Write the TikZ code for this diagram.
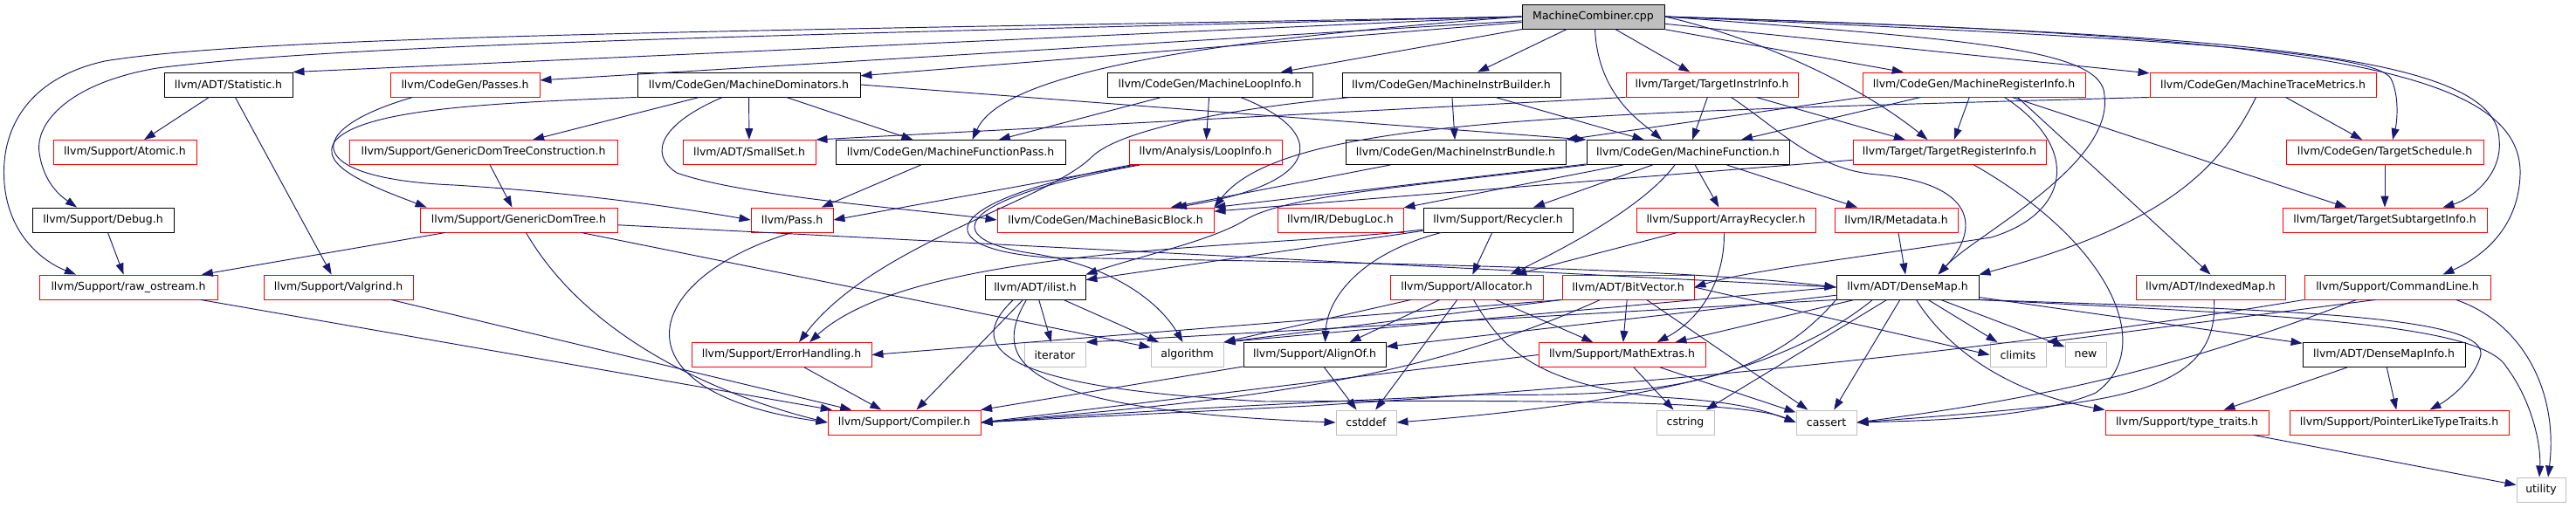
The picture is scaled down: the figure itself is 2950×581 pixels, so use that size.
\documentclass[tikz,border=0pt]{standalone}
\usepackage{fontspec}
\newfontfamily\hdrfont{DejaVu Sans}
\usetikzlibrary{arrows.meta}
\definecolor{edgeblue}{HTML}{191970}
\definecolor{boxred}{HTML}{FF0000}
\definecolor{sysgray}{HTML}{BFBFBF}
\definecolor{rootfill}{HTML}{BFBFBF}
\tikzset{
  hdr/.style={draw, rectangle, inner sep=0pt, minimum height=28pt, line width=0.9pt,
    font=\hdrfont\fontsize{12.5pt}{15pt}\selectfont, text=black},
  redb/.style={hdr, draw=boxred},
  blkb/.style={hdr, draw=black},
  sysb/.style={hdr, draw=sysgray},
  dep/.style={draw=edgeblue, line width=0.95pt, -{Triangle[length=13pt,width=9pt]}},
}
\begin{document}
\begin{tikzpicture}[x=1pt, y=-1pt]
\useasboundingbox (0,0) rectangle (2950,581);
% rank 0
\node[blkb, fill=rootfill, minimum width=163pt] (root) at (1824.5,19) {MachineCombiner.cpp};
% rank 1
\node[blkb, minimum width=147pt] (stat) at (261.5,97) {llvm/ADT/Statistic.h};
\node[redb, minimum width=171pt] (passes) at (532.5,97) {llvm/CodeGen/Passes.h};
\node[blkb, minimum width=255pt] (mdom) at (857.5,97) {llvm/CodeGen/MachineDominators.h};
\node[blkb, minimum width=235pt] (mli) at (1385.5,97) {llvm/CodeGen/MachineLoopInfo.h};
\node[blkb, minimum width=250pt] (mib) at (1662,97) {llvm/CodeGen/MachineInstrBuilder.h};
\node[redb, minimum width=197pt] (tii) at (1960.5,97) {llvm/Target/TargetInstrInfo.h};
\node[redb, minimum width=255pt] (mri) at (2260.5,97) {llvm/CodeGen/MachineRegisterInfo.h};
\node[redb, minimum width=259pt] (mtm) at (2591.5,97) {llvm/CodeGen/MachineTraceMetrics.h};
% rank 2
\node[redb, minimum width=164pt] (atomic) at (143,174.5) {llvm/Support/Atomic.h};
\node[redb, minimum width=307pt] (gdtc) at (553.5,174.5) {llvm/Support/GenericDomTreeConstruction.h};
\node[redb, minimum width=152pt] (smallset) at (858,174.5) {llvm/ADT/SmallSet.h};
\node[blkb, minimum width=263pt] (mfp) at (1088.5,174.5) {llvm/CodeGen/MachineFunctionPass.h};
\node[redb, minimum width=175pt] (loopinfo) at (1380.5,174.5) {llvm/Analysis/LoopInfo.h};
\node[blkb, minimum width=252pt] (mibundle) at (1667,174.5) {llvm/CodeGen/MachineInstrBundle.h};
\node[blkb, minimum width=232pt] (mf) at (1933,174.5) {llvm/CodeGen/MachineFunction.h};
\node[redb, minimum width=221pt] (tri) at (2232.5,174.5) {llvm/Target/TargetRegisterInfo.h};
\node[redb, minimum width=226pt] (tsched) at (2731,174.5) {llvm/CodeGen/TargetSchedule.h};
% rank 3
\node[blkb, minimum width=162pt] (debug) at (118,252) {llvm/Support/Debug.h};
\node[redb, minimum width=226pt] (gdt) at (594,252) {llvm/Support/GenericDomTree.h};
\node[redb, minimum width=94pt] (pass) at (907,252) {llvm/Pass.h};
\node[redb, minimum width=248pt] (mbb) at (1266,252) {llvm/CodeGen/MachineBasicBlock.h};
\node[redb, minimum width=144pt] (debugloc) at (1535,252) {llvm/IR/DebugLoc.h};
\node[blkb, minimum width=171pt] (recycler) at (1715.5,252) {llvm/Support/Recycler.h};
\node[redb, minimum width=205pt] (arrayrec) at (1976.5,252) {llvm/Support/ArrayRecycler.h};
\node[redb, minimum width=141pt] (metadata) at (2171.5,252) {llvm/IR/Metadata.h};
\node[redb, minimum width=234pt] (tsi) at (2731,252) {llvm/Target/TargetSubtargetInfo.h};
% rank 4
\node[redb, minimum width=204pt] (raw) at (147,329) {llvm/Support/raw\_ostream.h};
\node[redb, minimum width=171pt] (valgrind) at (387.5,329) {llvm/Support/Valgrind.h};
\node[blkb, minimum width=115pt] (ilist) at (1185.5,329) {llvm/ADT/ilist.h};
\node[redb, minimum width=175pt] (allocator) at (1679.5,329) {llvm/Support/Allocator.h};
\node[redb, minimum width=151pt] (bitvector) at (1864.5,329) {llvm/ADT/BitVector.h};
\node[blkb, minimum width=163pt] (densemap) at (2184.5,329) {llvm/ADT/DenseMap.h};
\node[redb, minimum width=171pt] (indexedmap) at (2531.5,329) {llvm/ADT/IndexedMap.h};
\node[redb, minimum width=213pt] (cl) at (2745.5,329) {llvm/Support/CommandLine.h};
% rank 5
\node[redb, minimum width=206pt] (errh) at (895,406.5) {llvm/Support/ErrorHandling.h};
\node[sysb, minimum width=70pt] (iterator) at (1208,406.5) {iterator};
\node[sysb, minimum width=83pt] (algorithm) at (1359.5,406.5) {algorithm};
\node[blkb, minimum width=163pt] (alignof) at (1505.5,406.5) {llvm/Support/AlignOf.h};
\node[redb, minimum width=191pt] (mathext) at (1857.5,406.5) {llvm/Support/MathExtras.h};
\node[sysb, minimum width=64pt] (climits) at (2311,406.5) {climits};
\node[sysb, minimum width=47pt] (nw) at (2388.5,406.5) {new};
\node[blkb, minimum width=186pt] (dmi) at (2730,406.5) {llvm/ADT/DenseMapInfo.h};
% rank 6
\node[redb, minimum width=175pt] (compiler) at (1035.5,484) {llvm/Support/Compiler.h};
\node[sysb, minimum width=69pt] (cstddef) at (1564.5,484) {cstddef};
\node[sysb, minimum width=66pt] (cstring) at (1930,484) {cstring};
\node[sysb, minimum width=69pt] (cassert) at (2091.5,484) {cassert};
\node[redb, minimum width=187pt] (typetraits) at (2504.5,484) {llvm/Support/type\_traits.h};
\node[redb, minimum width=251pt] (pltt) at (2747.5,484) {llvm/Support/PointerLikeTypeTraits.h};
% rank 7
\node[sysb, minimum width=56pt] (utility) at (2910,561) {utility};

% ---- edges from root
\draw[dep] (root.west) -- (stat.north east);
\draw[dep] (root) -- (passes);
\draw[dep] (root) -- (mdom);
\draw[dep] (root.west) .. controls (1400,45) and (1150,80) .. ([xshift=25pt]mfp.north);
\draw[dep] (root) -- (mli);
\draw[dep] (root) -- (mib);
\draw[dep] ([xshift=2pt]root.south) .. controls (1830,110) and (1880,140) .. ([xshift=-30pt]mf.north);
\draw[dep] (root) -- (tii);
\draw[dep] (root) -- (mri);
\draw[dep] (root) -- (mtm);
\draw[dep] (root.east) .. controls (2000,40) and (2120,90) .. ([xshift=-25pt]tri.north);
\draw[dep] (root.east) .. controls (2500,45) and (2720,60) .. (2738,90) .. controls (2748,110) and (2745,140) .. ([xshift=9pt]tsched.north);
\draw[dep] (root.east) .. controls (2550,40) and (2860,60) .. (2862,160) .. controls (2866,200) and (2830,228) .. ([xshift=-51pt]tsi.north east);
\draw[dep] (root.east) .. controls (2600,40) and (2890,70) .. (2886,200) .. controls (2884,270) and (2830,300) .. ([xshift=-55pt]cl.north east);
\draw[dep] (root.east) .. controls (2250,45) and (2410,55) .. (2410,110) .. controls (2420,190) and (2260,270) .. ([xshift=35pt]densemap.north);
\draw[dep] (root.west) .. controls (900,40) and (400,50) .. (180,78) .. controls (80,95) and (40,140) .. (45,175) .. controls (50,210) and (70,225) .. ([xshift=-30pt]debug.north);
\draw[dep] (root.west) .. controls (900,35) and (300,40) .. (120,70) .. controls (30,90) and (0,150) .. (5,210) .. controls (10,270) and (50,300) .. ([xshift=-60pt]raw.north);

% ---- left part
\draw[dep] (stat) -- (atomic);
\draw[dep] (stat) -- (valgrind);
\draw[dep] (debug) -- (raw);
\draw[dep] (raw) -- (compiler);
\draw[dep] (valgrind) -- (compiler);
\draw[dep] ([xshift=-60pt]passes.south) .. controls (340,150) and (350,205) .. (520,212) .. controls (650,220) and (760,235) .. (pass.west);
\draw[dep] (mdom) -- (gdtc);
\draw[dep] (mdom) -- (smallset);
\draw[dep] (mdom) -- (mfp);
\draw[dep] (mdom.east) -- (mf.north west);
\draw[dep] (mdom.south west) .. controls (560,118) and (420,125) .. (385,160) .. controls (360,190) and (430,215) .. ([xshift=8pt]gdt.north west);
\draw[dep] ([xshift=-30pt]mdom.south) .. controls (760,140) and (740,175) .. (775,198) .. controls (850,225) and (1050,240) .. (mbb.west);
\draw[dep] (gdtc) -- (gdt);
\draw[dep] (gdt) -- (raw);
\draw[dep] (gdt) .. controls (680,400) and (850,460) .. (compiler.west);
\draw[dep] (gdt) -- (densemap.west);
\draw[dep] (gdt) -- (algorithm);
\draw[dep] (pass.south) .. controls (730,320) and (700,450) .. (compiler.west);
\draw[dep] (errh) -- (compiler);

% ---- middle
\draw[dep] (mli) -- (mfp);
\draw[dep] (mli) -- (loopinfo);
\draw[dep] ([xshift=35pt]mli.south) .. controls (1520,150) and (1520,210) .. ([xshift=80pt]mbb.north);
\draw[dep] (mfp) -- (pass);
\draw[dep] (loopinfo) -- (pass.east);
\draw[dep] ([xshift=-75pt]loopinfo.south) .. controls (1080,230) and (1080,275) .. (1180,290) .. controls (1280,305) and (1330,350) .. ([xshift=-5pt]algorithm.north);
\draw[dep] ([xshift=-85pt]loopinfo.south) .. controls (1070,230) and (1060,285) .. (1200,295) .. controls (1500,300) and (1900,305) .. (densemap.west);
\draw[dep] (mib) -- (mibundle);
\draw[dep] (mib) -- (mf);
\draw[dep] ([xshift=-115pt]mib.south) .. controls (1400,125) and (1280,150) .. (1250,180) .. controls (1200,230) and (1000,280) .. ([xshift=20pt]errh.north);
\draw[dep] (mibundle) -- (mbb);
\draw[dep] (mf.south west) .. controls (1600,215) and (1470,225) .. (1426,252) .. controls (1390,275) and (1300,295) .. (ilist.north east);
\draw[dep] (mf) -- (mbb);
\draw[dep] (mf) -- (debugloc);
\draw[dep] (mf) -- (recycler);
\draw[dep] (mf) -- (arrayrec);
\draw[dep] (mf) -- (metadata);
\draw[dep] ([xshift=-15pt]mf.south) .. controls (1880,240) and (1780,290) .. ([xshift=50pt]allocator.north);
\draw[dep] (tii.south west) -- (smallset.north east);
\draw[dep] (tii) -- (mf);
\draw[dep] (tii) -- (tri);
\draw[dep] ([xshift=22pt]tii.south) .. controls (2040,150) and (2080,195) .. (2150,200) .. controls (2260,210) and (2270,260) .. ([xshift=35pt]densemap.north);
\draw[dep] (mri.south west) -- (mibundle.north east);
\draw[dep] (mri) -- (mf);
\draw[dep] (mri) -- (tri);
\draw[dep] (mri) -- (tsi);
\draw[dep] ([xshift=50pt]mri.south) -- (indexedmap.north);
\draw[dep] ([xshift=35pt]mri.south) .. controls (2385,170) and (2370,245) .. (2280,272) .. controls (2150,292) and (2000,310) .. (bitvector.east);
\draw[dep] ([xshift=-8pt]mtm.south) .. controls (2540,200) and (2470,260) .. (densemap.north east);
\draw[dep] (mtm) -- (tsched);
\draw[dep] (mtm.south west) .. controls (1800,130) and (1470,135) .. (mbb.north east);
\draw[dep] (tri) -- (mbb);
\draw[dep] ([xshift=28pt]tri.south) .. controls (2420,280) and (2470,400) .. (2400,450) .. controls (2330,480) and (2200,482) .. (cassert.east);
\draw[dep] (tsched) -- (tsi);

% ---- lower middle
\draw[dep] (recycler) -- (ilist);
\draw[dep] ([xshift=-65pt]recycler.south) .. controls (1560,290) and (1520,340) .. ([xshift=12pt]alignof.north);
\draw[dep] (recycler) -- (allocator);
\draw[dep] ([yshift=-11pt]recycler.west) .. controls (1450,285) and (1050,280) .. ([xshift=32pt]errh.north);
\draw[dep] (arrayrec) -- (allocator);
\draw[dep] ([xshift=-2pt]arrayrec.south) .. controls (1975,330) and (1940,370) .. ([xshift=40pt]mathext.north);
\draw[dep] (metadata) -- (densemap);
\draw[dep] (ilist) -- (compiler);
\draw[dep] (ilist) -- (iterator);
\draw[dep] (ilist) -- (algorithm);
\draw[dep] ([xshift=-25pt]ilist.south) .. controls (1100,400) and (1150,445) .. (1450,460) .. controls (1800,458) and (2000,460) .. (cassert.west);
\draw[dep] ([xshift=-10pt]ilist.south) .. controls (1130,420) and (1180,470) .. (cstddef.west);
\draw[dep] (allocator) -- ([xshift=40pt]alignof.north);
\draw[dep] (allocator) -- (mathext);
\draw[dep] (allocator) -- (cstddef);
\draw[dep] ([xshift=8pt]allocator.south) .. controls (1720,400) and (1760,440) .. (1900,455) .. controls (1990,460) and (2020,470) .. (cassert.west);
\draw[dep] (allocator) -- (algorithm.north east);
\draw[dep] (bitvector.south west) -- (errh.east);
\draw[dep] ([xshift=-32pt]bitvector.south) .. controls (1620,440) and (1400,460) .. (compiler.east);
\draw[dep] (bitvector) -- (mathext);
\draw[dep] (bitvector.south west) -- (algorithm.north east);
\draw[dep] (bitvector) -- (cassert);
\draw[dep] (bitvector.east) -- (climits.west);

% ---- DenseMap
\draw[dep] (densemap) -- (dmi);
\draw[dep] (densemap) -- (alignof);
\draw[dep] (densemap.south west) .. controls (2020,440) and (1900,455) .. (1700,452) .. controls (1400,465) and (1250,475) .. (compiler.east);
\draw[dep] (densemap) -- (mathext);
\draw[dep] (densemap.south east) .. controls (2600,355) and (2860,360) .. (2840,410) .. controls (2830,440) and (2800,460) .. ([xshift=35pt]pltt.north);
\draw[dep] ([xshift=10pt]densemap.south) .. controls (2230,400) and (2300,450) .. (typetraits.north west);
\draw[dep] (densemap.west) -- (algorithm.north east);
\draw[dep] (densemap) -- (cassert);
\draw[dep] (densemap) -- (climits);
\draw[dep] (densemap) -- (nw);
\draw[dep] ([xshift=-40pt]densemap.south) .. controls (2050,420) and (1900,460) .. (cstddef.east);
\draw[dep] (densemap) -- (cstring);
\draw[dep] (densemap.south west) -- (iterator.north east);
\draw[dep] (densemap.south east) .. controls (2600,360) and (2840,370) .. (2870,420) .. controls (2900,460) and (2910,510) .. ([xshift=-2pt]utility.north);

% ---- right part
\draw[dep] ([xshift=4pt]indexedmap.south) .. controls (2540,420) and (2480,450) .. (2350,465) .. controls (2250,475) and (2180,480) .. (cassert.east);
\draw[dep] (cl.south west) .. controls (2300,400) and (1900,440) .. (1500,465) .. controls (1300,475) and (1200,480) .. (compiler.east);
\draw[dep] ([xshift=-47pt]cl.south) .. controls (2500,420) and (2350,455) .. (cassert.east);
\draw[dep] ([xshift=-25pt]cl.south) -- (climits.north east);
\draw[dep] ([xshift=67pt]cl.south) .. controls (2890,370) and (2930,450) .. ([xshift=8pt]utility.north);
\draw[dep] (alignof) -- (compiler);
\draw[dep] (alignof) -- (cstddef);
\draw[dep] (mathext.west) -- (compiler.east);
\draw[dep] (mathext) -- (cstring);
\draw[dep] (mathext) -- (cassert);
\draw[dep] (dmi) -- (typetraits);
\draw[dep] (dmi) -- (pltt);
\draw[dep] (typetraits) -- (utility);
\end{tikzpicture}
\end{document}
